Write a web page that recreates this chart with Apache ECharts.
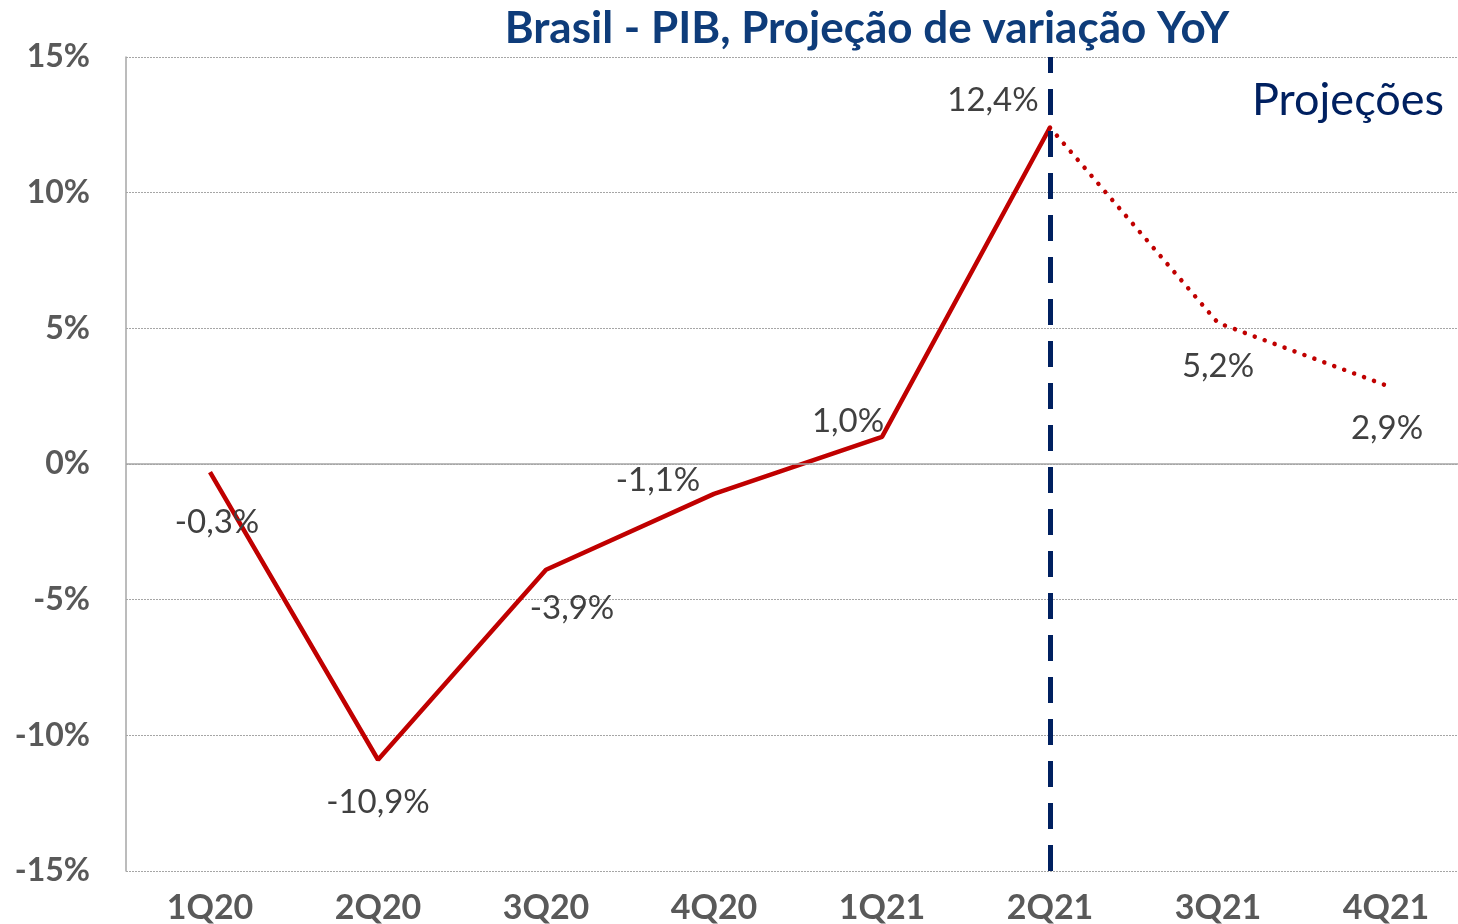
<!DOCTYPE html>
<html>
<head>
<meta charset="utf-8">
<script src="https://cdn.jsdelivr.net/npm/echarts@6/dist/echarts.min.js"></script>
<style>
  html, body { margin: 0; padding: 0; background: #fff; }
  #chart { width: 1458px; height: 924px; }
</style>
</head>
<body>
<div id="chart"></div>
<script>
// dados
var quarters = ['1Q20', '2Q20', '3Q20', '4Q20', '1Q21', '2Q21', '3Q21', '4Q21'];
var realizado = [-0.3, -10.9, -3.9, -1.1, 1.0, 12.4, null, null];
var projecao = [null, null, null, null, null, 12.4, 5.2, 2.9];
var yTicks = [-15, -10, -5, 0, 5, 10, 15];

// posicao dos rotulos (deslocamento a partir do ponto)
var labelOffsets = [[7, 50], [0, 43], [26, 39], [-56, -13], [-34, -16], [-57, -27], [0, 43], [1, 43]];

var FONT = 'Lato, "Open Sans", sans-serif';

function fmt(v) {
    return v.toFixed(1).replace('.', ',') + '%';
}

function withLabels(values, skip) {
    return values.map(function (v, i) {
        if (v === null) return null;
        return {
            value: v,
            label: {
                show: skip.indexOf(i) < 0,
                position: 'inside',
                offset: labelOffsets[i]
            }
        };
    });
}

var chart = echarts.init(document.getElementById('chart'));
chart.setOption({
    animation: false,
    title: {
        text: 'Brasil - PIB, Projeção de variação YoY',
        left: 862,
        textAlign: 'center',
        top: 2,
        textStyle: {
            fontFamily: FONT,
            fontWeight: 'bold',
            fontSize: 44,
            color: '#0e3c7a'
        }
    },
    graphic: [{
        type: 'text',
        right: 14,
        top: 78,
        style: {
            text: 'Projeções',
            font: '45px ' + FONT,
            fill: '#002060'
        }
    }],
    grid: {
        left: 126,
        top: 57,
        width: 1344,
        height: 814,
        containLabel: false,
        outerBoundsMode: 'none'
    },
    xAxis: {
        type: 'category',
        data: quarters,
        boundaryGap: true,
        axisLine: { show: false },
        axisTick: { show: false },
        axisLabel: {
            margin: 20,
            fontFamily: FONT,
            fontWeight: 'bold',
            fontSize: 34,
            color: '#595959'
        }
    },
    yAxis: {
        type: 'value',
        min: yTicks[0],
        max: yTicks[yTicks.length - 1],
        interval: 5,
        axisLine: { show: true, lineStyle: { color: '#a6a6a6', width: 1.5 } },
        axisTick: { show: false },
        splitLine: { lineStyle: { color: '#a6a6a6', type: [2, 1], width: 1 } },
        axisLabel: {
            margin: 36,
            fontFamily: FONT,
            fontWeight: 'bold',
            fontSize: 32,
            color: '#595959',
            formatter: '{value}%'
        }
    },
    series: [
        {
            name: 'PIB',
            type: 'line',
            data: withLabels(realizado, []),
            symbol: 'circle',
            symbolSize: 1,
            itemStyle: { color: 'rgba(0,0,0,0)' },
            lineStyle: { color: '#c00000', width: 4.5 },
            label: {
                fontFamily: FONT,
                fontSize: 33,
                color: '#404040',
                formatter: function (p) { return fmt(p.value); }
            },
            markLine: {
                silent: true,
                symbol: 'none',
                label: { show: false },
                data: [
                    { yAxis: 0, lineStyle: { color: '#a6a6a6', type: 'solid', width: 1.5 } },
                    { xAxis: '2Q21', lineStyle: { color: '#002060', type: [26, 16], width: 5 } }
                ]
            },
            z: 3
        },
        {
            name: 'Projeção',
            type: 'line',
            data: withLabels(projecao, [5]),
            symbol: 'circle',
            symbolSize: 1,
            itemStyle: { color: 'rgba(0,0,0,0)' },
            lineStyle: { color: '#c00000', width: 4.5, type: [0.1, 10.5], cap: 'round' },
            label: {
                fontFamily: FONT,
                fontSize: 33,
                color: '#404040',
                formatter: function (p) { return fmt(p.value); }
            },
            z: 3
        }
    ]
});
</script>
</body>
</html>
